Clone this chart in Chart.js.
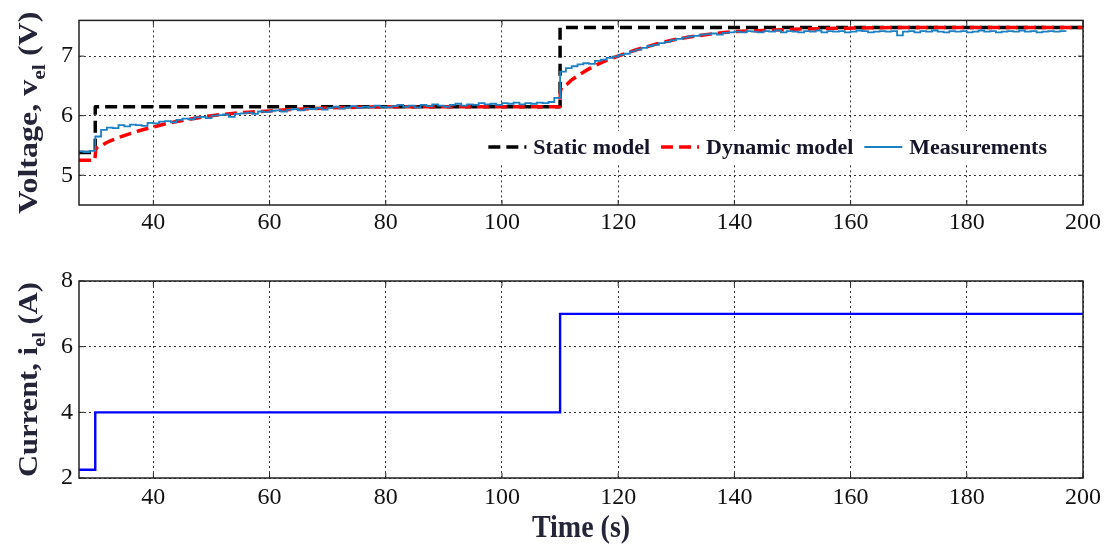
<!DOCTYPE html>
<html>
<head>
<meta charset="utf-8">
<script src="https://cdn.jsdelivr.net/npm/chart.js@4.4.1/dist/chart.umd.min.js"></script>
<style>
html, body { margin: 0; padding: 0; background: #fff; }
#wrap { position: relative; width: 1106px; height: 544px; overflow: hidden; }
canvas { position: absolute; left: 0; }
#cv { top: 0; }
#ci { top: 250px; }
</style>
</head>
<body>
<div id="wrap">
  <canvas id="cv" width="1106" height="250"></canvas>
  <canvas id="ci" width="1106" height="294"></canvas>
</div>
<script>
// tick labels
const xTicks = [40, 60, 80, 100, 120, 140, 160, 180, 200];
const vTicks = [5, 6, 7];
const iTicks = [2, 4, 6, 8];

// static model (step, holds until next time)
const staticT = [27.2, 30, 110, 200];
const staticV = [5.38, 6.15, 7.48, 7.48];

// dynamic model
const dynT = [27.2, 29.9, 30.1, 31, 32, 34, 36, 38, 40, 42, 45, 48, 50, 55, 60, 65, 70, 75, 80, 90, 100, 109.9,
              110.1, 111, 112, 114, 116, 118, 120, 122, 125, 128, 131, 135, 140, 145, 150, 160, 170, 200];
const dynV = [5.25, 5.25, 5.43, 5.50, 5.55, 5.63, 5.70, 5.76, 5.81, 5.86, 5.92, 5.97, 6.00, 6.05, 6.08, 6.11, 6.13, 6.14, 6.15, 6.15, 6.15, 6.15,
              6.43, 6.52, 6.60, 6.73, 6.84, 6.93, 7.00, 7.07, 7.16, 7.24, 7.30, 7.36, 7.41, 7.43, 7.45, 7.47, 7.48, 7.48];

// measurements (1 s samples)
const measT = [27, 28, 29, 30, 31, 32, 33, 34, 35, 36, 37, 38, 39, 40, 41, 42, 43, 44, 45, 46, 47, 48, 49, 50,
  51, 52, 53, 54, 55, 56, 57, 58, 59, 60, 61, 62, 63, 64, 65, 66, 67, 68, 69, 70, 71, 72, 73, 74, 75, 76, 77, 78, 79, 80,
  81, 82, 83, 84, 85, 86, 87, 88, 89, 90, 91, 92, 93, 94, 95, 96, 97, 98, 99, 100, 101, 102, 103, 104, 105, 106, 107, 108, 109, 110,
  111, 112, 113, 114, 115, 116, 117, 118, 119, 120, 121, 122, 123, 124, 125, 126, 127, 128, 129, 130, 131, 132, 133, 134, 135, 136, 137, 138, 139, 140,
  141, 142, 143, 144, 145, 146, 147, 148, 149, 150, 151, 152, 153, 154, 155, 156, 157, 158, 159, 160, 161, 162, 163, 164, 165, 166, 167, 168, 169, 170,
  171, 172, 173, 174, 175, 176, 177, 178, 179, 180, 181, 182, 183, 184, 185, 186, 187, 188, 189, 190, 191, 192, 193, 194, 195, 196, 197];
const measV = [5.40, 5.39, 5.41, 5.65, 5.76, 5.80, 5.79, 5.84, 5.82, 5.85, 5.84, 5.83, 5.88, 5.87, 5.90, 5.91, 5.89, 5.93, 5.95, 5.94, 5.97, 5.98, 5.96, 6.00,
  6.01, 6.02, 5.98, 6.03, 6.04, 6.05, 6.03, 6.07, 6.06, 6.08, 6.09, 6.07, 6.10, 6.11, 6.09, 6.12, 6.11, 6.13, 6.10, 6.13, 6.15, 6.12, 6.14, 6.16, 6.13, 6.15, 6.14, 6.17, 6.15, 6.14,
  6.16, 6.18, 6.15, 6.17, 6.14, 6.18, 6.16, 6.19, 6.17, 6.15, 6.18, 6.20, 6.17, 6.19, 6.18, 6.21, 6.19, 6.20, 6.18, 6.21, 6.20, 6.22, 6.19, 6.21, 6.20, 6.22, 6.21, 6.23, 6.30, 6.74,
  6.80, 6.83, 6.86, 6.88, 6.87, 6.92, 6.94, 6.97, 6.99, 7.02, 7.04, 7.08, 7.11, 7.14, 7.17, 7.19, 7.22, 7.24, 7.27, 7.29, 7.31, 7.33, 7.34, 7.36, 7.37, 7.38, 7.36, 7.39, 7.40, 7.41,
  7.40, 7.42, 7.41, 7.40, 7.42, 7.41, 7.43, 7.40, 7.42, 7.41, 7.40, 7.42, 7.41, 7.43, 7.40, 7.42, 7.41, 7.42, 7.40, 7.41, 7.43, 7.42, 7.40, 7.41, 7.42, 7.41, 7.42, 7.35, 7.41, 7.42,
  7.40, 7.42, 7.41, 7.43, 7.41, 7.40, 7.42, 7.41, 7.42, 7.40, 7.41, 7.43, 7.41, 7.42, 7.40, 7.41, 7.42, 7.41, 7.43, 7.41, 7.42, 7.40, 7.41, 7.42, 7.41, 7.42, 7.41];

// current (step)
const curT = [27.2, 30, 110, 200];
const curV = [2.25, 4, 7, 7];

const FONT = '"Liberation Serif", "Times New Roman", serif';
const xy = (ts, vs) => ts.map((t, i) => ({ x: t, y: vs[i] }));

// frame round the plot + little solid ticks on the inside
const framePlugin = {
    id: 'frame',
    afterDraw(chart) {
        const { ctx, chartArea: a, scales } = chart;
        ctx.save();
        ctx.strokeStyle = '#222';
        ctx.lineWidth = 1.5;
        ctx.strokeRect(a.left, a.top, a.right - a.left, a.bottom - a.top);
        ctx.lineWidth = 1;
        ctx.beginPath();
        scales.x.ticks.forEach(t => {
            const px = scales.x.getPixelForValue(t.value);
            ctx.moveTo(px, a.top); ctx.lineTo(px, a.top + 5);
            ctx.moveTo(px, a.bottom); ctx.lineTo(px, a.bottom - 5);
        });
        scales.y.ticks.forEach(t => {
            const py = scales.y.getPixelForValue(t.value);
            ctx.moveTo(a.left, py); ctx.lineTo(a.left + 5, py);
            ctx.moveTo(a.right, py); ctx.lineTo(a.right - 5, py);
        });
        ctx.stroke();
        ctx.restore();
    }
};

// y title with subscript, stretched along its length like the original figure
function yTitle(main, sub, tail, len) {
    return {
        id: 'ytitle',
        afterDraw(chart) {
            const { ctx, chartArea } = chart;
            const cy = (chartArea.top + chartArea.bottom) / 2;
            const big = 'bold 28px ' + FONT, small = 'bold 19px ' + FONT;
            ctx.save();
            ctx.font = big;
            const w1 = ctx.measureText(main).width, w3 = ctx.measureText(tail).width;
            ctx.font = small;
            const w2 = ctx.measureText(sub).width;
            const tot = w1 + w2 + w3;
            ctx.translate(27, cy);
            ctx.rotate(-Math.PI / 2);
            ctx.scale(len / tot, 1);
            ctx.fillStyle = '#25253a';
            ctx.textBaseline = 'alphabetic';
            ctx.textAlign = 'left';
            let x = -tot / 2;
            ctx.font = big; ctx.fillText(main, x, 10); x += w1;
            ctx.font = small; ctx.fillText(sub, x, 18); x += w2;
            ctx.font = big; ctx.fillText(tail, x, 10);
            ctx.restore();
        }
    };
}

// legend inside the voltage plot
const innerLegend = {
    id: 'innerLegend',
    afterDatasetsDraw(chart) {
        const { ctx, chartArea: a } = chart;
        const ds = chart.data.datasets;
        ctx.save();
        ctx.font = 'bold 22px ' + FONT;
        const sample = 38, gap = 7, between = 11;
        const widths = ds.map(d => ctx.measureText(d.label).width);
        const total = widths.reduce((s, w) => s + sample + gap + w, 0) + between * (ds.length - 1);
        let x = a.right - 36 - total;
        const cy = 147;
        ctx.fillStyle = '#fff';
        ctx.fillRect(x - 5, cy - 16, total + 10, 32);
        ds.forEach((d, i) => {
            ctx.strokeStyle = d.borderColor;
            ctx.lineWidth = d.borderWidth;
            ctx.setLineDash(d.borderDash || []);
            ctx.beginPath();
            ctx.moveTo(x, cy); ctx.lineTo(x + sample, cy);
            ctx.stroke();
            ctx.setLineDash([]);
            x += sample + gap;
            ctx.fillStyle = '#15152a';
            ctx.textBaseline = 'middle';
            ctx.fillText(d.label, x, cy + 1);
            x += widths[i] + between;
        });
        ctx.restore();
    }
};

const xTitle = {
    id: 'xtitle',
    afterDraw(chart) {
        const { ctx, chartArea: a } = chart;
        ctx.save();
        ctx.translate((a.left + a.right) / 2, 279);
        ctx.scale(1, 1.12);
        ctx.font = 'bold 28px ' + FONT;
        ctx.fillStyle = '#25253a';
        ctx.textAlign = 'center';
        ctx.textBaseline = 'middle';
        ctx.fillText('Time (s)', 0, 0);
        ctx.restore();
    }
};

function scalesFor(yMin, yMax, yTickList, xAxisHeight, xPad) {
    const grid = { color: '#333', lineWidth: 1, drawTicks: false };
    const border = { display: false, dash: [2, 3] };
    return {
        x: {
            type: 'linear', min: 27.2, max: 200,
            grid, border,
            afterBuildTicks: s => { s.ticks = xTicks.map(v => ({ value: v })); },
            afterFit: s => { s.height = xAxisHeight; },
            ticks: { font: { family: FONT, size: 24 }, color: '#111', padding: xPad, maxRotation: 0 }
        },
        y: {
            type: 'linear', min: yMin, max: yMax,
            grid, border,
            afterBuildTicks: s => { s.ticks = yTickList.map(v => ({ value: v })); },
            afterFit: s => { s.width = 79; },
            ticks: { font: { family: FONT, size: 24 }, color: '#111', padding: 6 }
        }
    };
}

new Chart(document.getElementById('cv'), {
    type: 'line',
    data: {
        datasets: [
            { label: 'Static model', data: xy(staticT, staticV), stepped: 'before',
              borderColor: '#000', borderWidth: 3.5, borderDash: [12, 6], pointRadius: 0, borderJoinStyle: 'round', order: 3 },
            { label: 'Dynamic model', data: xy(dynT, dynV), cubicInterpolationMode: 'monotone',
              borderColor: '#ff0000', borderWidth: 3.5, borderDash: [12, 6], pointRadius: 0, order: 2 },
            { label: 'Measurements', data: xy(measT, measV), stepped: 'before',
              borderColor: '#1c80c2', borderWidth: 1.8, pointRadius: 0, order: 1 }
        ]
    },
    options: {
        responsive: false,
        animation: false,
        layout: { padding: { top: 8, right: 23, left: 0, bottom: 0 } },
        plugins: { legend: { display: false }, tooltip: { enabled: false } },
        scales: scalesFor(4.5, 7.6, vTicks, 45, 3)
    },
    plugins: [framePlugin, yTitle('Voltage, v', 'el', ' (V)', 202), innerLegend]
});

new Chart(document.getElementById('ci'), {
    type: 'line',
    data: {
        datasets: [
            { label: 'Current', data: xy(curT, curV), stepped: 'before',
              borderColor: '#0000ff', borderWidth: 2.4, pointRadius: 0 }
        ]
    },
    options: {
        responsive: false,
        animation: false,
        layout: { padding: { top: 31, right: 23, left: 0, bottom: 0 } },
        plugins: { legend: { display: false }, tooltip: { enabled: false } },
        scales: scalesFor(2, 8, iTicks, 66, 5)
    },
    plugins: [framePlugin, yTitle('Current, i', 'el', ' (A)', 195), xTitle]
});
</script>
</body>
</html>
